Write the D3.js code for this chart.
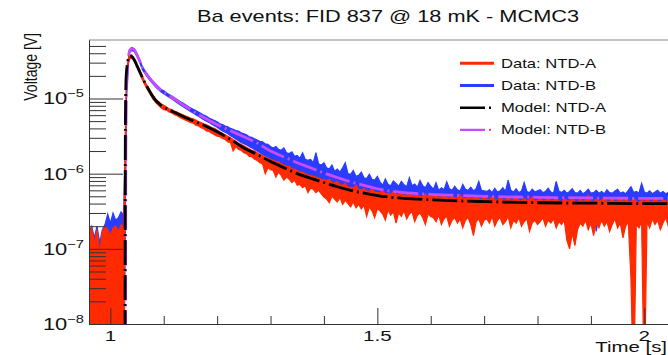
<!DOCTYPE html>
<html><head><meta charset="utf-8">
<script src="https://cdn.jsdelivr.net/npm/d3@7"></script>
<style>body{margin:0;background:#fff}svg{display:block;font-family:"Liberation Sans",Arial,Helvetica,sans-serif}</style>
</head><body>
<script>
// ---------------- DATA ----------------
const title = "Ba events: FID 837 @ 18 mK - MCMC3";
const xTitle = "Time [s]";
const yTitle = "Voltage [V]";
const xMajorTicks = [1, 1.5, 2];
const xMajorLabels = ["1", "1.5", "2"];
const xMinorTicks = [1.1, 1.2, 1.3, 1.4, 1.6, 1.7, 1.8, 1.9];
const yMajorExps = [-8, -7, -6, -5];
const legendLabels = ["Data: NTD-A", "Data: NTD-B", "Model: NTD-A", "Model: NTD-B"];

const UNIT = 1e-7;          // all values below are in units of 1e-7 V
const T0 = 0.960, DT = 0.005; // data sample grid (envelope per sample bin)

// Data NTD-A (red): upper / lower envelope
const redHi = [1.6,1.9,1.2,1.8,0.9,1.7,2.0,1.8,1.5,1.9,2.0,1.7,2.1,1.9,
235,376,380,336,282,236,197,166,144,125,110,99,91,85,81,
77,73,71,68,66,63,61,59,57,55,53.5,51.5,49.5,48,46,44.5,43,41,40,38,
36,34.5,33,31.5,30,28.5,27,25.5,24.5,23.5,22.5,21.5,20.5,20,19,18,17.5,16.5,16,15.5,
15,14.5,14.5,13.5,13,12.5,12.5,11.5,11.5,11,10.5,10.5,10,9.6,9.6,9.2,9,8.8,8.4,8.3,
8.1,8.4,7.6,7.5,7.9,7.1,7.0,7.5,6.6,6.6,6.4,7.0,6.2,6.1,6.3,5.9,5.8,6.2,5.7,5.6,
5.6,5.9,5.4,5.5,5.3,5.8,5.3,5.2,5.5,5.1,5.2,5.6,5.0,5.1,5.4,4.9,5.0,5.3,4.9,5.0,
4.9,5.3,4.8,4.9,5.2,4.8,4.7,5.1,4.7,4.8,5.3,4.7,4.6,5.0,4.6,4.7,5.1,4.6,4.5,4.9,
4.6,4.5,5.0,4.5,4.4,4.8,4.5,4.4,4.9,4.4,4.5,5.1,4.4,4.3,4.7,4.4,4.5,4.9,4.3,4.4,
4.7,4.3,4.4,5.0,4.3,4.4,4.8,4.3,4.2,4.6,4.4,4.3,4.9,4.3,4.2,4.6,4.3,4.4,5.2,4.3,
4.2,4.6,4.3,4.4,4.9,4.2,4.3,4.7,4.2,4.3,4.8,4.2,4.6,4.3,4.2,4.7,4.3,4.1,4.5,4.2,
4.6,4.3,4.2,4.8,4.3,4.2,4.5,4.3,4.4,4.6];
const redLo = [0.01,0.01,0.01,0.01,0.01,0.01,0.01,0.01,0.01,0.01,0.01,0.01,0.01,0.01,
200,330,348,308,256,214,178,150,129,112,98,88,81,75,71,
70,66,64,61,59,56,54,52,50,48,47,44,43,41,39.5,37,36.5,34.5,33,31.5,
31,29.5,28.5,26.5,26,20,23,21,20.5,19,18.5,17,16.8,15.5,15,14,13.5,10,12,11.3,
11,9.0,10.5,9.5,8.2,9.0,8.4,7.6,8.2,7.0,7.2,6.5,6.9,5.6,6.4,6.2,5.6,6.0,5.4,4.9,
4.6,4.1,5.0,4.6,4.2,4.8,3.9,4.4,4.0,3.6,4.2,3.5,3.9,3.4,3.8,2.7,3.6,3.2,2.6,3.4,
3.2,2.9,2.4,3.3,2.8,3.1,2.2,3.0,2.7,3.2,2.5,2.9,3.1,2.3,2.8,3.0,2.6,2.1,2.9,2.7,
2.6,2.3,2.8,2.1,2.5,2.7,2.0,2.4,2.6,2.2,2.5,1.9,2.4,2.6,2.1,1.5,2.3,2.5,2.0,2.4,
2.5,2.2,2.7,2.0,2.4,2.6,2.1,2.3,2.7,1.9,2.4,2.2,2.6,2.0,2.3,2.5,1.7,2.2,2.4,2.1,
2.3,2.6,2.0,2.4,2.2,2.5,1.9,2.3,2.1,2.4,1.3,1.0,1.6,1.1,1.8,2.2,2.0,2.4,1.8,2.2,
1.5,2.2,1.9,2.4,2.0,2.3,1.7,2.1,2.5,1.9,2.2,1.4,2.0,2.3,0.4,0.01,2.1,1.9,2.3,0.01,
2.3,1.9,2.5,2.1,2.4,1.8,2.2,2.6,2.0,2.3];

// Data NTD-B (blue): upper / lower envelope
const blueHi = [1.7,2.0,1.4,2.0,1.2,1.8,2.1,2.9,2.2,3.0,2.4,2.6,3.1,2.8,
110,437,478,458,395,328,265,234,208,187,170,156,144,133,127,
119,113,108,102,97,92,88,83,79,75,72,69,66,63,60,58,55,53,51,49,
46,45,43,42,40,39,37.5,37,35,34,33,31,30.5,29,28,27,26.5,25,24.5,23,
22,23,21,20.5,22,19,18.5,19.5,17,17.5,16,19,15.5,15,15.5,14,19,13.5,13,14,
12,11.5,13,10.8,11.5,10.5,12,14,10,9.8,11,9.2,9.5,10.5,8.8,8.6,9.8,8.4,8.2,9.2,
7.8,7.0,8.5,7.2,6.9,8.0,7.4,6.8,7.9,7.1,6.7,8.8,6.9,7.3,6.6,8.1,6.9,6.5,7.6,6.8,
6.2,7.6,6.0,6.5,6.1,7.8,6.3,6.0,6.8,6.1,5.9,7.2,6.2,6.0,6.6,5.9,6.3,7.9,6.0,5.9,
5.8,6.1,5.6,6.4,5.7,5.9,6.5,5.8,8.2,6.0,5.7,6.3,5.6,5.9,7.6,5.8,5.6,6.2,5.7,5.9,
6.1,5.6,5.8,6.4,5.7,5.5,7.9,5.9,5.6,6.0,5.5,5.8,6.3,5.6,5.5,6.0,5.4,5.7,6.2,5.5,
5.6,6.0,5.5,5.8,5.4,6.1,5.6,5.5,5.9,6.2,5.5,5.7,5.4,6.0,6.7,5.6,5.8,5.5,7.4,5.7,
5.5,5.9,5.4,5.7,6.0,5.5,5.8,5.4,5.6,5.9];
const blueLo = [0.01,0.01,0.01,0.01,0.01,0.01,0.01,0.01,0.01,0.01,0.01,0.01,0.01,0.01,
90,400,437,420,362,300,242,214,190,171,155,142,131,122,116,
110,104,99,93,88,83,79,75,71,67,64,61,58,55,52,50,48,45.5,43.5,41.5,
39,37,35.5,34,32,30.5,29,27.5,26,25,24,23,22,21,20,19,18,17.3,16.6,15.8,
15,14.4,14,13.4,12.9,12.4,12,11.6,11.2,10.8,10.4,10.1,9.8,9.5,9.2,9.0,8.7,8.5,8.3,8.0,
7.7,7.5,7.3,7.1,6.9,6.7,6.6,6.4,6.3,6.1,6.0,5.9,5.8,5.6,5.5,5.4,5.3,5.2,5.1,5.0,
4.7,4.5,4.6,4.3,4.4,4.2,4.3,4.1,4.2,4.0,4.1,3.9,4.0,3.8,3.9,3.7,3.8,3.6,3.7,3.6,
3.6,3.5,3.6,3.4,3.5,3.3,3.5,3.4,3.2,3.4,3.3,3.5,3.2,3.4,3.3,3.1,3.4,3.2,3.3,3.2,
3.3,3.1,3.2,3.4,3.1,3.3,3.2,3.0,3.3,3.1,3.2,3.4,3.0,3.2,3.1,3.3,3.0,3.2,3.1,3.3,
3.1,3.2,3.0,3.3,3.1,3.2,3.0,3.2,3.1,3.3,3.0,3.1,3.2,3.0,3.1,3.2,3.0,3.1,3.3,3.0,
3.1,1.7,3.0,3.2,3.1,3.0,3.2,3.1,3.0,3.2,3.1,3.0,3.1,3.2,3.0,3.1,3.2,3.0,3.1,3.0,
3.1,3.0,3.2,3.1,3.0,3.1,3.2,3.0,3.1,3.0];

// Models (smooth curves)
const modelTimes = [0.96,1.027,1.028,1.029,1.030,1.032,1.034,1.037,1.040,1.045,1.050,1.055,1.060,1.065,1.070,1.075,1.080,1.085,1.090,1.095,1.100,1.125,1.150,1.175,1.200,1.225,1.250,1.275,1.300,1.325,1.350,1.375,1.400,1.425,1.450,1.475,1.500,1.550,1.600,1.650,1.700,1.800,1.900,2.000,2.050];
const modelA = [0.001,0.001,30,150,220,290,340,368,362,325,272,228,190,160,138,120,105,94,87,81,77,63,52,44,36,28.5,22,18,14.5,12,10,8.7,7.6,6.7,6.0,5.5,5.1,4.7,4.5,4.35,4.25,4.1,4.05,4.0,4.0];
const modelB = [0.001,0.001,0.001,20,100,260,370,440,460,440,380,315,258,225,200,180,163,150,138,128,122,93,71,56,45,37.3,31,25.5,20,16.7,14,12,10.2,8.9,7.8,7.0,6.3,5.6,5.3,5.15,5.0,4.85,4.75,4.7,4.7];

// ---------------- CHART ----------------
const W = 668, H = 355;
const plot = {left: 89, right: 671, top: 40, bottom: 324};
const colors = {red: "#ff2a00", blue: "#2a3cff", black: "#000000", purple: "#c94bff"};
const dash = "25,4,2,4";
const SX = 1.33;   // horizontal stretch of the original canvas text
const textColor = "#111";

const svg = d3.select("body").append("svg").attr("width", W).attr("height", H);
svg.append("rect").attr("width", W).attr("height", H).attr("fill", "#fff");

const x = d3.scaleLinear().domain([0.96, 2.05]).range([plot.left, plot.right]);
const y = d3.scaleLog().domain([1e-8, 6e-5]).range([plot.bottom, plot.top]);

svg.append("clipPath").attr("id", "clip").append("rect")
  .attr("x", plot.left).attr("y", plot.top)
  .attr("width", W - plot.left + 10).attr("height", plot.bottom - plot.top);

const g = svg.append("g").attr("clip-path", "url(#clip)");

const tOf = i => T0 + i * DT;
function envelope(hi, lo) {
  return hi.map((h, i) => ({t: tOf(i), hi: h * UNIT, lo: lo[i] * UNIT}));
}
const area = d3.area().x(d => x(d.t)).y0(d => y(d.lo)).y1(d => y(d.hi));

g.append("path").datum(envelope(blueHi, blueLo)).attr("d", area)
  .attr("fill", colors.blue).attr("stroke", colors.blue).attr("stroke-width", 1.2);
g.append("path").datum(envelope(redHi, redLo)).attr("d", area)
  .attr("fill", colors.red).attr("stroke", colors.red).attr("stroke-width", 1.2);

const line = d3.line().x(d => x(d.t)).y(d => y(d.v)).curve(d3.curveMonotoneX);
const modelData = arr => modelTimes.map((t, i) => ({t, v: arr[i] * UNIT}));
g.append("path").datum(modelData(modelB)).attr("d", line)
  .attr("fill", "none").attr("stroke", colors.purple).attr("stroke-width", 2.8).attr("stroke-dasharray", dash);
g.append("path").datum(modelData(modelA)).attr("d", line)
  .attr("fill", "none").attr("stroke", colors.black).attr("stroke-width", 2.8).attr("stroke-dasharray", dash);

// ---------------- AXES ----------------
const axisColor = "#333";
svg.append("line").attr("x1", plot.left).attr("x2", W).attr("y1", plot.top).attr("y2", plot.top)
  .attr("stroke", "#888").attr("stroke-width", 1);

const yMinor = [];
yMajorExps.forEach(e => { for (let k = 2; k <= 9; k++) { const v = k * Math.pow(10, e); if (v <= 6e-5) yMinor.push(v); } });
const yMajor = yMajorExps.map(e => Math.pow(10, e));

const yAxisMinor = svg.append("g").attr("transform", `translate(${plot.left},0)`)
  .call(d3.axisLeft(y).tickValues(yMinor).tickSize(-17).tickSizeOuter(0).tickFormat(""));
const yAxisMajor = svg.append("g").attr("transform", `translate(${plot.left},0)`)
  .call(d3.axisLeft(y).tickValues(yMajor).tickSize(-34).tickSizeOuter(0).tickFormat(""));
[yAxisMinor, yAxisMajor].forEach(a => { a.selectAll("line").attr("stroke", axisColor); a.select(".domain").attr("stroke", axisColor); });

// Y labels 10^e (horizontally stretched like the original)
yMajorExps.forEach(e => {
  const t = svg.append("text")
    .attr("transform", `translate(84,${y(Math.pow(10, e)) + 6}) scale(${SX},1)`)
    .attr("text-anchor", "end").attr("fill", textColor).style("font-size", "16.5px");
  t.append("tspan").text("10");
  t.append("tspan").attr("dy", -7).style("font-size", "11px").text("\u2212" + Math.abs(e));
});

// X axis
const xAxisMinor = svg.append("g").attr("transform", `translate(0,${plot.bottom})`)
  .call(d3.axisBottom(x).tickValues(xMinorTicks).tickSize(-8).tickSizeOuter(0).tickFormat(""));
const xAxisMajor = svg.append("g").attr("transform", `translate(0,${plot.bottom})`)
  .call(d3.axisBottom(x).tickValues(xMajorTicks).tickSize(-16).tickSizeOuter(0).tickFormat(""));
[xAxisMinor, xAxisMajor].forEach(a => { a.selectAll("line").attr("stroke", axisColor); a.select(".domain").attr("stroke", axisColor); });
xMajorTicks.forEach((v, i) => {
  svg.append("text").attr("transform", `translate(${x(v)},${plot.bottom + 16.5}) scale(${SX},1)`)
    .attr("text-anchor", "middle").attr("fill", textColor).style("font-size", "15.5px").text(xMajorLabels[i]);
});

// Titles
svg.append("text").attr("transform", `translate(388,22) scale(1.36,1)`).attr("text-anchor", "middle")
  .attr("fill", textColor).style("font-size", "16px").text(title);
svg.append("text").attr("transform", `translate(667,352) scale(1.36,1)`).attr("text-anchor", "end")
  .attr("fill", textColor).style("font-size", "15px").text(xTitle);
svg.append("text").attr("transform", `translate(37,33) scale(${SX},1) rotate(-90)`).attr("text-anchor", "end")
  .attr("fill", textColor).style("font-size", "14px").text(yTitle);

// Legend
const legColors = [colors.red, colors.blue, colors.black, colors.purple];
const legDash = [null, null, dash, dash];
const legWidth = [3, 3, 2.4, 2.4];
legendLabels.forEach((lab, i) => {
  const ly = 63.3 + i * 22.2;
  svg.append("line").attr("x1", 460).attr("x2", 494).attr("y1", ly).attr("y2", ly)
    .attr("stroke", legColors[i]).attr("stroke-width", legWidth[i]).attr("stroke-dasharray", legDash[i]);
  svg.append("text").attr("transform", `translate(501,${ly + 4.5}) scale(${SX},1)`).attr("fill", textColor)
    .style("font-size", "12.5px").text(lab);
});
</script>
</body></html>
